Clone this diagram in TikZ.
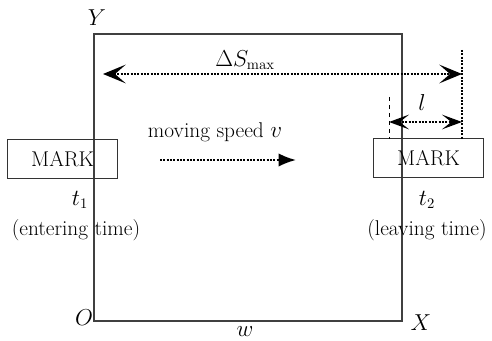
\documentclass[tikz,border=0pt]{standalone}
\usepackage{tikz}
\usetikzlibrary{arrows.meta,positioning,calc}

\begin{document}
\begin{tikzpicture}[
  x=0.75pt, y=-0.75pt,
  font=\fontsize{16}{18}\selectfont,
  frame/.style={draw=black!75, line width=0.8pt},
  markbox/.style={
    draw=black!80,
    line width=0.6pt,
    minimum width=83pt,
    minimum height=29pt,
    inner sep=2pt
  },
  dotline/.style={densely dotted, line width=1.5pt},
  bigtip/.tip={Stealth[length=17pt,width=14pt,inset=8pt]},
  smalltip/.tip={Stealth[length=15pt,width=11pt,inset=7pt]},
  move/.style={dotline, -{Latex[length=13pt,width=10pt]}}
]
\useasboundingbox (0,0) rectangle (492,341);

% the field
\coordinate (O) at (94,321);
\coordinate (TR) at (402,34);
\draw[frame] (O) rectangle (TR);
\node (Ylab) at (97,18) {$Y$};
\node (Olab) at (84,318) {$O$};
\node (Xlab) at (421,323) {$X$};
\node (wlab) at (245,332) {$w$};

% marks at entering and leaving
\node[markbox] (M1) at (62.5,159) {MARK};
\node[markbox] (M2) at (428.5,158) {MARK};
\node (t1) at (80,200) {$t_1$};
\node (enter) at (76,230) {(entering time)};
\node (t2) at (427,200) {$t_2$};
\node (leave) at (427,230) {(leaving time)};

% travel limits
\coordinate (Sa) at (103,74);
\coordinate (Sb) at (462,74);
\coordinate (Ltop) at (462,50);
\coordinate (Lbot) at (462,139);
\coordinate (Dtop) at (389,97);
\coordinate (Dbot) at (389,139);
\draw[dotline] (Ltop) -- (Lbot);
\draw[dashed, line width=0.6pt] (Dtop) -- (Dbot);
\draw[dotline, bigtip-bigtip] (Sa) -- (Sb);
\node (dS) at (245,60) {$\Delta S_{\mathrm{max}}$};

\coordinate (la) at (389,122);
\coordinate (lb) at (462,122);
\draw[dotline, smalltip-smalltip] (la) -- (lb);
\node (llab) at (422,103) {$l$};

% moving direction
\node (speed) at (215,132) {moving speed $v$};
\coordinate (va) at (160,160);
\coordinate (vb) at (296,160);
\draw[move] (va) -- (vb);
\end{tikzpicture}
\end{document}
